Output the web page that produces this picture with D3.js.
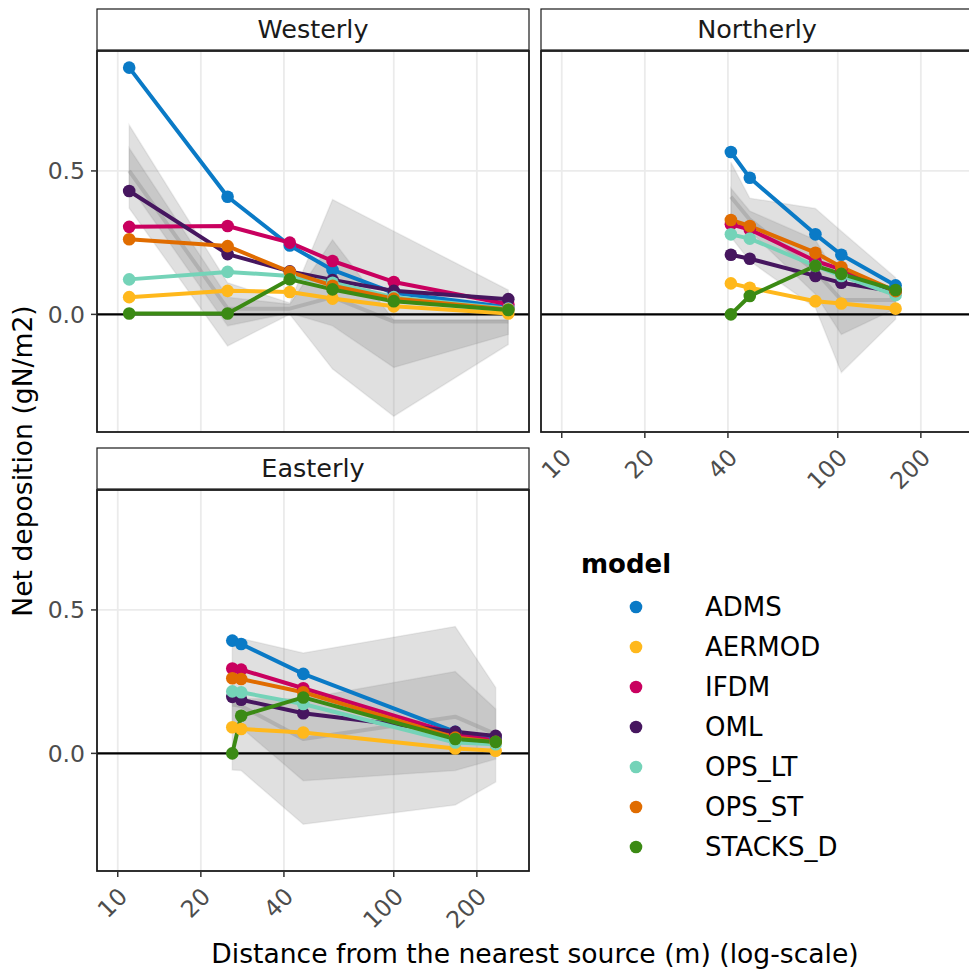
<!DOCTYPE html>
<html><head><meta charset="utf-8">
<script src="https://cdn.jsdelivr.net/npm/d3@7"></script>
<style>
html,body{margin:0;padding:0;background:#fff;}
svg{display:block;font-family:"DejaVu Sans",sans-serif;}
</style></head>
<body>
<svg id="chart" width="969" height="971"></svg>
<script>
// ---------------- data ----------------
const models = ["ADMS","AERMOD","IFDM","OML","OPS_LT","OPS_ST","STACKS_D"];
const modelColors = ["#0a7ac6","#ffb81c","#c9005f","#46165f","#74d3b8","#e06c00","#3b8a14"];
const directions = ["Westerly","Northerly","Easterly"];

const xTicks = [10, 20, 40, 100, 200];
const yTicks = [0, 0.5];
const yTickLabels = ["0.0", "0.5"];

// Westerly
const westDist = [11, 25, 42, 60, 100, 260];
const westValues = {
  ADMS:     [0.86, 0.41, 0.24, 0.155, 0.075, 0.025],
  AERMOD:   [0.06, 0.082, 0.078, 0.055, 0.028, 0.003],
  IFDM:     [0.305, 0.308, 0.25, 0.186, 0.113, 0.035],
  OML:      [0.43, 0.21, 0.15, 0.12, 0.082, 0.053],
  OPS_LT:   [0.122, 0.148, 0.134, 0.11, 0.06, 0.02],
  OPS_ST:   [0.262, 0.238, 0.148, 0.10, 0.055, 0.017],
  STACKS_D: [0.003, 0.003, 0.122, 0.087, 0.046, 0.015]
};
const westOuterHi = [0.66, 0.11, 0.04, 0.40, 0.29, 0.085];
const westOuterLo = [0.37, -0.11, 0.0, -0.19, -0.355, -0.105];
const westInnerHi = [0.58, 0.06, 0.035, 0.26, -0.02, -0.02];
const westInnerLo = [0.45, -0.04, 0.005, -0.04, -0.185, -0.07];
const westMedian  = [0.50, 0.02, 0.02, 0.06, -0.025, -0.025];

// Northerly
const northDist = [41, 48, 83, 103, 162];
const northValues = {
  ADMS:     [0.566, 0.476, 0.279, 0.208, 0.101],
  AERMOD:   [0.108, 0.093, 0.046, 0.038, 0.02],
  IFDM:     [0.314, 0.296, 0.186, 0.157, 0.08],
  OML:      [0.208, 0.194, 0.134, 0.11, 0.079],
  OPS_LT:   [0.279, 0.264, 0.169, 0.134, 0.067],
  OPS_ST:   [0.329, 0.308, 0.215, 0.165, 0.081],
  STACKS_D: [0.0, 0.064, 0.169, 0.141, 0.085]
};
const northOuterHi = [0.53, 0.405, 0.369, 0.29, 0.128];
const northOuterLo = [0.27, 0.186, 0.023, -0.203, -0.017];
const northInnerHi = [0.44, 0.36, 0.26, 0.11, 0.08];
const northInnerLo = [0.34, 0.29, 0.07, -0.07, 0.02];
const northMedian  = [0.41, 0.33, 0.15, 0.05, 0.05];

// Easterly
const eastDist = [26, 28, 47, 167, 234];
const eastValues = {
  ADMS:     [0.393, 0.381, 0.277, 0.075, 0.05],
  AERMOD:   [0.091, 0.085, 0.073, 0.017, 0.009],
  IFDM:     [0.296, 0.292, 0.227, 0.067, 0.044],
  OML:      [0.197, 0.187, 0.14, 0.075, 0.061],
  OPS_LT:   [0.216, 0.213, 0.172, 0.038, 0.032],
  OPS_ST:   [0.262, 0.259, 0.213, 0.055, 0.04],
  STACKS_D: [0.0, 0.131, 0.195, 0.05, 0.04]
};
const eastOuterHi = [0.405, 0.40, 0.35, 0.442, 0.23];
const eastOuterLo = [-0.058, -0.06, -0.247, -0.18, -0.10];
const eastInnerHi = [0.19, 0.19, 0.19, 0.285, 0.155];
const eastInnerLo = [0.09, 0.09, -0.095, -0.06, -0.02];
const eastMedian  = [0.17, 0.165, 0.05, 0.128, 0.067];

// ---------------- layout ----------------
const panelW = 432, panelH = 381, stripH = 41;
const xLimits = [8.41, 309];
const yLimits = [-0.41, 0.918];

const panelData = {
  Westerly:  {dist: westDist, vals: westValues, oHi: westOuterHi, oLo: westOuterLo, iHi: westInnerHi, iLo: westInnerLo, med: westMedian, left: 97, top: 51, xAxis: false, yAxis: true},
  Northerly: {dist: northDist, vals: northValues, oHi: northOuterHi, oLo: northOuterLo, iHi: northInnerHi, iLo: northInnerLo, med: northMedian, left: 541, top: 51, xAxis: true, yAxis: false},
  Easterly:  {dist: eastDist, vals: eastValues, oHi: eastOuterHi, oLo: eastOuterLo, iHi: eastInnerHi, iLo: eastInnerLo, med: eastMedian, left: 97, top: 490, xAxis: true, yAxis: true}
};

const svg = d3.select("#chart");
const x = d3.scaleLog().domain(xLimits).range([0, panelW]);
const y = d3.scaleLinear().domain(yLimits).range([panelH, 0]);
const color = d3.scaleOrdinal().domain(models).range(modelColors);

directions.forEach((dir, di) => {
  const p = panelData[dir];
  const g = svg.append("g").attr("transform", `translate(${p.left},${p.top})`);

  // strip
  g.append("rect").attr("x", 0).attr("y", -stripH - 1).attr("width", panelW).attr("height", stripH)
    .attr("fill", "#fff").attr("stroke", "#1a1a1a").attr("stroke-width", 1.2);
  g.append("text").attr("x", panelW / 2).attr("y", -stripH / 2 - 1).attr("dy", "0.35em")
    .attr("text-anchor", "middle").attr("font-size", 25.5).attr("fill", "#1a1a1a").text(dir);

  // clip
  const cid = "clip" + di;
  g.append("clipPath").attr("id", cid).append("rect").attr("width", panelW).attr("height", panelH);
  const inner = g.append("g").attr("clip-path", `url(#${cid})`);

  // grid
  inner.selectAll(".vg").data(xTicks).join("line")
    .attr("x1", d => x(d)).attr("x2", d => x(d)).attr("y1", 0).attr("y2", panelH)
    .attr("stroke", "#ebebeb").attr("stroke-width", 1.8);
  inner.selectAll(".hg").data(yTicks).join("line")
    .attr("x1", 0).attr("x2", panelW).attr("y1", d => y(d)).attr("y2", d => y(d))
    .attr("stroke", "#ebebeb").attr("stroke-width", 1.8);

  // ribbons
  const idx = p.dist.map((d, i) => i);
  const areaO = d3.area().x(i => x(p.dist[i])).y0(i => y(p.oLo[i])).y1(i => y(p.oHi[i]));
  const areaI = d3.area().x(i => x(p.dist[i])).y0(i => y(p.iLo[i])).y1(i => y(p.iHi[i]));
  inner.append("path").attr("d", areaO(idx)).attr("fill", "#7f7f7f").attr("fill-opacity", 0.24)
    .attr("stroke", "#7f7f7f").attr("stroke-opacity", 0.12).attr("stroke-width", 1.5);
  inner.append("path").attr("d", areaI(idx)).attr("fill", "#7f7f7f").attr("fill-opacity", 0.24)
    .attr("stroke", "#7f7f7f").attr("stroke-opacity", 0.12).attr("stroke-width", 1.5);
  const medLine = d3.line().x(i => x(p.dist[i])).y(i => y(p.med[i]));
  inner.append("path").attr("d", medLine(idx)).attr("fill", "none")
    .attr("stroke", "#7f7f7f").attr("stroke-opacity", 0.3).attr("stroke-width", 4).attr("stroke-linejoin", "round");

  // zero line
  inner.append("line").attr("x1", 0).attr("x2", panelW).attr("y1", y(0)).attr("y2", y(0))
    .attr("stroke", "#000").attr("stroke-width", 2.2);

  // model lines
  const line = d3.line().x(d => x(d.dist)).y(d => y(d.v));
  models.forEach(m => {
    const pts = p.dist.map((d, i) => ({dist: d, v: p.vals[m][i]}));
    inner.append("path").attr("d", line(pts)).attr("fill", "none")
      .attr("stroke", color(m)).attr("stroke-width", 4).attr("stroke-linejoin", "round");
  });
  models.forEach(m => {
    const pts = p.dist.map((d, i) => ({dist: d, v: p.vals[m][i]}));
    inner.selectAll(null).data(pts).join("circle")
      .attr("cx", d => x(d.dist)).attr("cy", d => y(d.v)).attr("r", 6.3).attr("fill", color(m));
  });

  // border
  g.append("rect").attr("width", panelW).attr("height", panelH)
    .attr("fill", "none").attr("stroke", "#1a1a1a").attr("stroke-width", 1.8);

  // y axis
  if (p.yAxis) {
    yTicks.forEach((t, i) => {
      g.append("line").attr("x1", -6).attr("x2", 0).attr("y1", y(t)).attr("y2", y(t))
        .attr("stroke", "#333").attr("stroke-width", 1.5);
      g.append("text").attr("x", -12).attr("y", y(t)).attr("dy", "0.36em").attr("text-anchor", "end")
        .attr("font-size", 23.5).attr("fill", "#4d4d4d").text(yTickLabels[i]);
    });
  }
  // x axis
  if (p.xAxis) {
    xTicks.forEach(t => {
      g.append("line").attr("x1", x(t)).attr("x2", x(t)).attr("y1", panelH).attr("y2", panelH + 6)
        .attr("stroke", "#333").attr("stroke-width", 1.5);
      g.append("text").attr("transform", `translate(${x(t) + 11},${panelH + 27}) rotate(-45)`)
        .attr("text-anchor", "end").attr("font-size", 23.5).attr("fill", "#4d4d4d").text(d3.format("d")(t));
    });
  }
});

// axis titles
svg.append("text").attr("x", 535).attr("y", 963).attr("text-anchor", "middle")
  .attr("font-size", 26.6).attr("fill", "#000").text("Distance from the nearest source (m) (log-scale)");
svg.append("text").attr("transform", "translate(32,461) rotate(-90)").attr("text-anchor", "middle")
  .attr("font-size", 26.6).attr("fill", "#000").text("Net deposition (gN/m2)");

// legend
const lg = svg.append("g").attr("transform", "translate(581,573)");
lg.append("text").attr("x", 0).attr("y", 0).attr("font-size", 26).attr("font-weight", "bold")
  .attr("fill", "#000").text("model");
models.forEach((m, i) => {
  const cy = 34 + i * 40;
  lg.append("circle").attr("cx", 55).attr("cy", cy).attr("r", 6.3).attr("fill", color(m));
  lg.append("text").attr("x", 124).attr("y", cy).attr("dy", "0.36em").attr("font-size", 26)
    .attr("fill", "#000").text(m);
});
</script>
</body></html>
